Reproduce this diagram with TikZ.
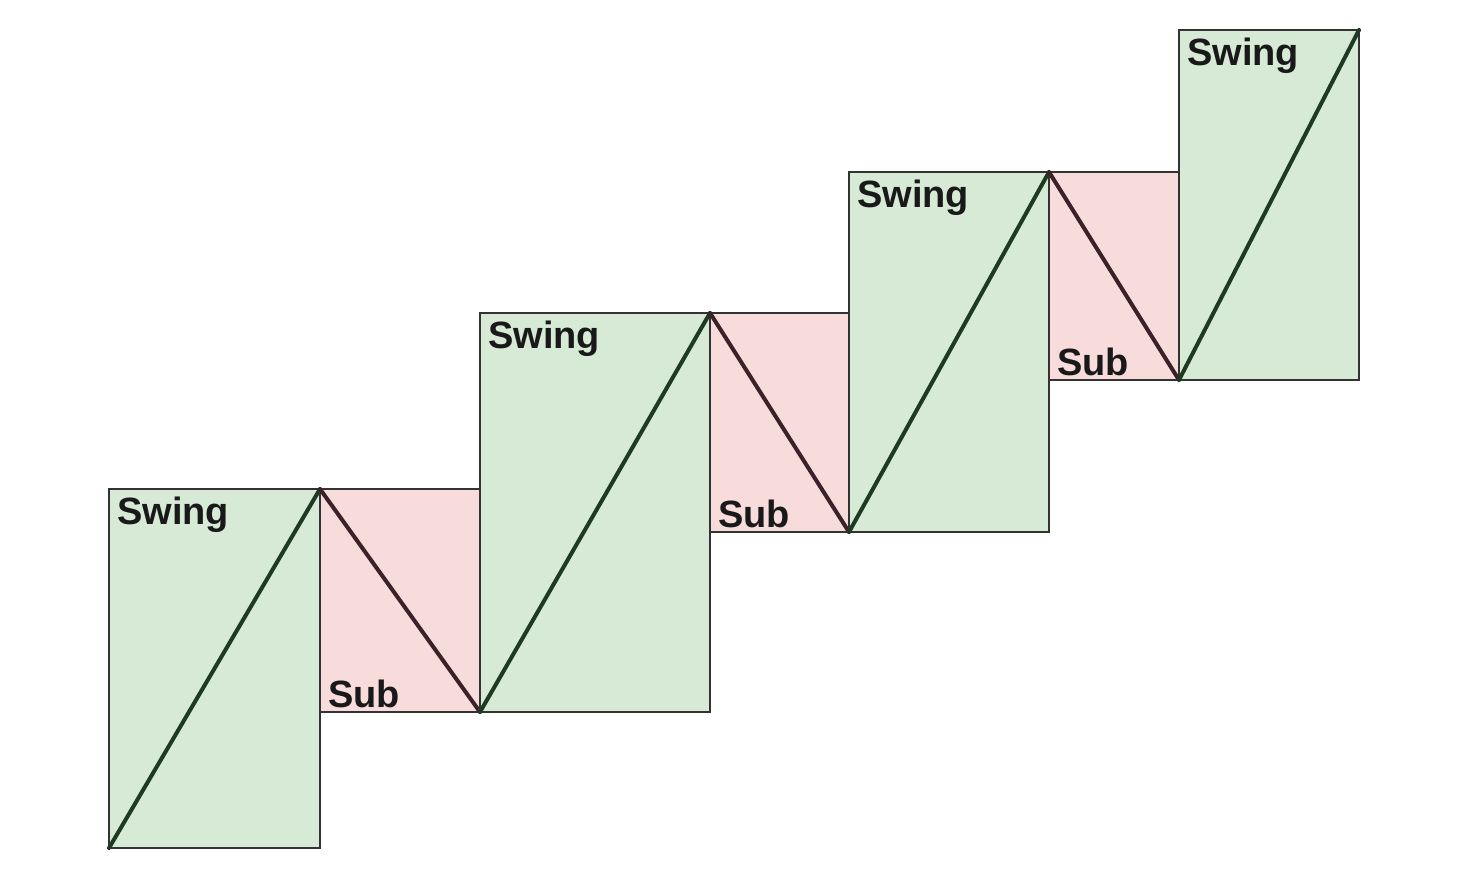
\documentclass[tikz,border=0pt]{standalone}
\usepackage{fontspec}
\setmainfont{Liberation Sans}
\definecolor{gfill}{HTML}{D7EAD6}
\definecolor{pfill}{HTML}{F8DCDC}
\definecolor{gline}{HTML}{1E3A22}
\definecolor{pline}{HTML}{3A2228}
\begin{document}
\begin{tikzpicture}[x=1pt,y=-1pt,
  swingbox/.style={fill=gfill,draw=black!80,line width=1.2pt},
  subbox/.style={fill=pfill,draw=black!80,line width=1.2pt},
  swingline/.style={draw=gline,line width=4pt,line cap=round},
  subline/.style={draw=pline,line width=4pt,line cap=round},
  lbl/.style={font=\fontsize{38}{40}\selectfont\bfseries,inner sep=0pt,text=black!90}]
\useasboundingbox (0,0) rectangle (1466,892);
\newcommand{\swingbox}[5]{%
  \draw[swingbox] (#1,#2) rectangle (#3,#4);
  \coordinate (#5bl) at (#1,#4); \coordinate (#5tr) at (#3,#2);
  \draw[swingline] (#5bl) -- (#5tr);
  \node[lbl,anchor=north west] (#5t) at (#1+8,#2+8) {Swing};}
\newcommand{\subbox}[5]{%
  \draw[subbox] (#1,#2) rectangle (#3,#4);
  \coordinate (#5tl) at (#1,#2); \coordinate (#5br) at (#3,#4);
  \draw[subline] (#5tl) -- (#5br);
  \node[lbl,anchor=south west] (#5t) at (#1+8,#4-4) {Sub};}
\swingbox{109}{489}{320}{848}{a}
\subbox{320}{489}{480}{712}{b}
\swingbox{480}{313}{710}{712}{c}
\subbox{710}{313}{849}{532}{d}
\swingbox{849}{172}{1049}{532}{e}
\subbox{1049}{172}{1179}{380}{f}
\swingbox{1179}{30}{1359}{380}{g}
\end{tikzpicture}
\end{document}
